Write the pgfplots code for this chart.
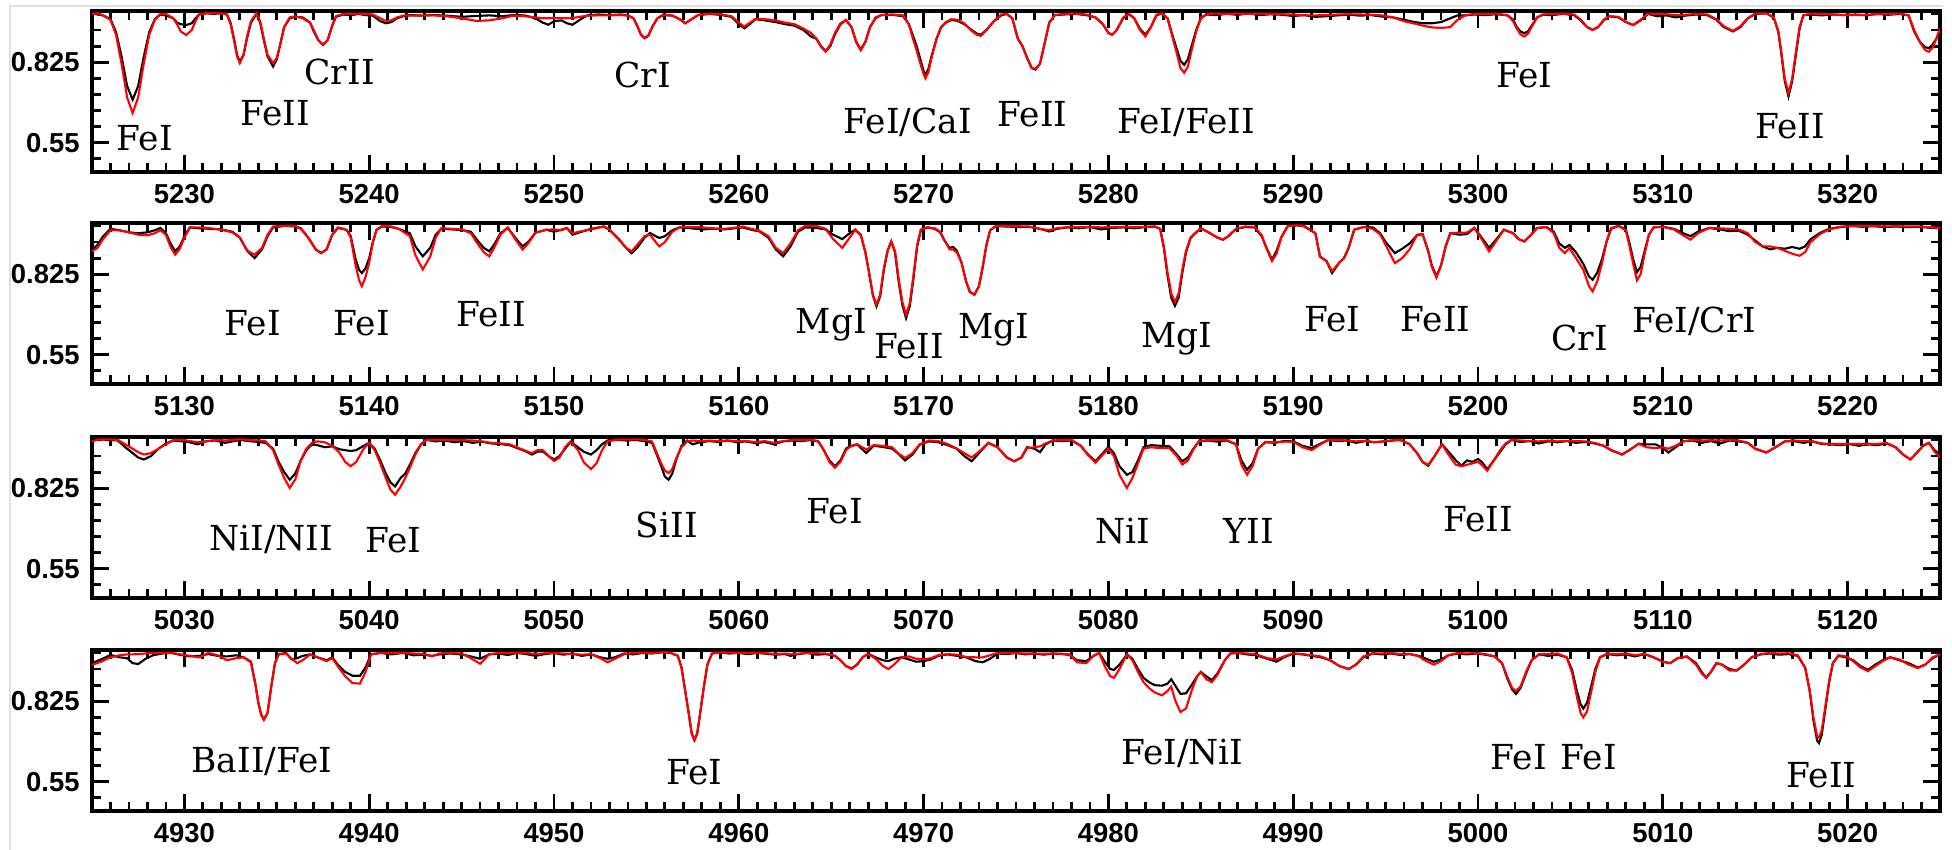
\documentclass[border=0pt]{standalone}
\usepackage{fontspec}
\usepackage{pgfplots}
\usepackage{pgfplotstable}
\pgfplotsset{compat=1.18}
\newfontfamily\tickfont{Liberation Sans}
\newfontfamily\labfont{DejaVu Serif}

% columns: wavelength, observed flux, model flux
\pgfplotstableread{
x o m
5225.0 0.992 0.990
5225.3 0.988 0.992
5225.6 0.985 0.985
5226.0 0.972 0.970
5226.3 0.928 0.919
5226.6 0.844 0.820
5226.9 0.744 0.705
5227.2 0.697 0.651
5227.5 0.744 0.705
5227.8 0.844 0.820
5228.1 0.928 0.919
5228.4 0.972 0.970
5228.7 0.988 0.990
5229.0 0.985 0.990
5229.4 0.975 0.975
5229.6 0.960 0.955
5229.8 0.955 0.930
5230.1 0.952 0.918
5230.4 0.958 0.935
5230.6 0.975 0.965
5230.8 0.988 0.988
5231.2 0.992 0.993
5231.6 0.990 0.992
5232.0 0.993 0.991
5232.3 0.988 0.988
5232.5 0.960 0.955
5232.7 0.900 0.895
5232.85 0.850 0.845
5233.0 0.827 0.822
5233.2 0.850 0.850
5233.4 0.910 0.915
5233.6 0.960 0.965
5233.9 0.990 0.992
5234.1 0.960 0.965
5234.3 0.900 0.905
5234.5 0.845 0.850
5234.8 0.810 0.822
5235.0 0.835 0.840
5235.2 0.890 0.890
5235.4 0.945 0.945
5235.7 0.975 0.978
5236.0 0.980 0.982
5236.4 0.978 0.975
5236.8 0.960 0.960
5237.0 0.930 0.935
5237.25 0.900 0.900
5237.5 0.884 0.885
5237.75 0.900 0.900
5238.0 0.950 0.950
5238.2 0.980 0.982
5238.6 0.988 0.990
5239.0 0.985 0.990
5239.4 0.990 0.991
5239.8 0.986 0.990
5240.2 0.984 0.988
5240.6 0.965 0.975
5240.9 0.958 0.966
5241.2 0.962 0.968
5241.5 0.975 0.978
5241.9 0.983 0.985
5242.3 0.986 0.984
5242.8 0.984 0.985
5243.5 0.986 0.985
5244.2 0.984 0.982
5245.0 0.980 0.975
5245.8 0.983 0.966
5246.5 0.985 0.968
5247.2 0.982 0.975
5247.8 0.986 0.984
5248.4 0.985 0.982
5249.0 0.975 0.978
5249.4 0.960 0.975
5249.7 0.953 0.975
5250.0 0.965 0.976
5250.4 0.968 0.975
5250.7 0.958 0.975
5251.0 0.953 0.976
5251.4 0.970 0.980
5251.8 0.985 0.984
5252.4 0.988 0.985
5253.0 0.986 0.985
5253.6 0.988 0.986
5254.0 0.985 0.984
5254.3 0.975 0.975
5254.5 0.950 0.950
5254.7 0.920 0.920
5254.9 0.907 0.907
5255.1 0.915 0.915
5255.35 0.950 0.950
5255.6 0.975 0.975
5255.9 0.986 0.987
5256.4 0.984 0.985
5256.8 0.972 0.972
5257.1 0.958 0.958
5257.4 0.970 0.970
5257.8 0.986 0.986
5258.4 0.990 0.991
5259.0 0.987 0.989
5259.6 0.980 0.982
5260.0 0.955 0.960
5260.3 0.941 0.947
5260.6 0.955 0.960
5260.9 0.972 0.973
5261.4 0.968 0.972
5262.0 0.962 0.968
5262.5 0.955 0.960
5263.0 0.950 0.955
5263.5 0.935 0.940
5263.9 0.913 0.925
5264.2 0.905 0.905
5264.45 0.880 0.878
5264.7 0.862 0.862
5264.95 0.880 0.885
5265.2 0.920 0.925
5265.5 0.955 0.958
5265.8 0.969 0.969
5266.1 0.945 0.945
5266.35 0.895 0.893
5266.6 0.868 0.866
5266.85 0.895 0.893
5267.1 0.945 0.945
5267.4 0.975 0.978
5267.7 0.986 0.986
5268.3 0.987 0.988
5268.9 0.982 0.985
5269.2 0.955 0.955
5269.4 0.920 0.910
5269.6 0.885 0.870
5269.8 0.840 0.825
5270.0 0.795 0.785
5270.1 0.783 0.770
5270.25 0.800 0.790
5270.45 0.850 0.845
5270.7 0.905 0.905
5270.95 0.945 0.945
5271.2 0.960 0.962
5271.5 0.969 0.972
5271.8 0.967 0.970
5272.2 0.955 0.958
5272.6 0.935 0.932
5272.9 0.922 0.918
5273.1 0.919 0.915
5273.4 0.935 0.935
5273.8 0.965 0.965
5274.2 0.985 0.988
5274.5 0.990 0.990
5274.8 0.975 0.975
5275.1 0.905 0.905
5275.35 0.880 0.880
5275.6 0.840 0.840
5275.85 0.805 0.805
5276.05 0.800 0.802
5276.3 0.820 0.820
5276.55 0.890 0.890
5276.8 0.960 0.960
5277.1 0.986 0.986
5277.6 0.988 0.990
5278.2 0.990 0.991
5278.8 0.986 0.988
5279.3 0.978 0.978
5279.7 0.955 0.955
5280.0 0.925 0.925
5280.2 0.919 0.919
5280.45 0.935 0.935
5280.8 0.975 0.978
5281.1 0.990 0.990
5281.4 0.975 0.975
5281.7 0.940 0.935
5282.0 0.919 0.913
5282.3 0.945 0.945
5282.6 0.985 0.987
5282.9 0.992 0.992
5283.2 0.975 0.975
5283.45 0.920 0.915
5283.7 0.870 0.855
5283.9 0.830 0.805
5284.1 0.816 0.789
5284.3 0.835 0.810
5284.5 0.880 0.865
5284.75 0.935 0.930
5285.0 0.975 0.976
5285.3 0.988 0.990
5285.8 0.986 0.991
5286.4 0.990 0.990
5287.0 0.987 0.991
5287.6 0.991 0.990
5288.2 0.986 0.991
5288.8 0.989 0.990
5289.4 0.987 0.989
5290.0 0.983 0.988
5290.6 0.986 0.985
5291.2 0.980 0.985
5291.8 0.982 0.986
5292.4 0.985 0.988
5293.0 0.988 0.989
5293.6 0.984 0.988
5294.2 0.986 0.987
5294.8 0.981 0.985
5295.4 0.978 0.978
5296.0 0.970 0.965
5296.5 0.963 0.958
5297.0 0.958 0.950
5297.5 0.958 0.944
5298.0 0.962 0.942
5298.5 0.975 0.945
5298.9 0.985 0.970
5299.3 0.985 0.985
5299.8 0.988 0.990
5300.4 0.986 0.990
5301.0 0.989 0.991
5301.6 0.985 0.985
5301.9 0.970 0.965
5302.1 0.945 0.940
5302.3 0.930 0.920
5302.5 0.924 0.913
5302.7 0.930 0.922
5302.9 0.950 0.945
5303.2 0.978 0.978
5303.5 0.987 0.988
5304.0 0.986 0.990
5304.6 0.990 0.991
5305.2 0.986 0.988
5305.6 0.965 0.968
5305.9 0.945 0.945
5306.2 0.935 0.935
5306.5 0.945 0.945
5306.8 0.968 0.970
5307.1 0.982 0.982
5307.6 0.978 0.980
5308.0 0.962 0.962
5308.4 0.952 0.952
5308.8 0.968 0.970
5309.2 0.990 0.991
5309.7 0.982 0.990
5310.2 0.985 0.989
5310.7 0.978 0.986
5311.2 0.984 0.987
5311.8 0.988 0.990
5312.4 0.986 0.988
5312.9 0.970 0.972
5313.3 0.945 0.948
5313.8 0.930 0.932
5314.2 0.945 0.948
5314.6 0.975 0.975
5315.0 0.990 0.991
5315.6 0.992 0.992
5316.0 0.978 0.978
5316.25 0.930 0.930
5316.4 0.860 0.865
5316.6 0.760 0.768
5316.8 0.708 0.719
5317.0 0.760 0.768
5317.2 0.850 0.860
5317.4 0.940 0.945
5317.6 0.985 0.985
5318.0 0.988 0.991
5318.6 0.985 0.990
5319.2 0.988 0.988
5319.8 0.986 0.986
5320.4 0.988 0.986
5321.0 0.985 0.987
5321.6 0.990 0.989
5322.2 0.987 0.990
5322.8 0.990 0.991
5323.3 0.985 0.985
5323.6 0.930 0.935
5323.9 0.895 0.895
5324.2 0.876 0.866
5324.4 0.873 0.861
5324.6 0.885 0.875
5324.8 0.905 0.905
5325.0 0.935 0.940
}\pA

\pgfplotstableread{
x o m
5125.0 0.909 0.903
5125.3 0.925 0.915
5125.6 0.955 0.945
5126.0 0.980 0.975
5126.5 0.975 0.975
5127.0 0.968 0.968
5127.5 0.965 0.960
5128.0 0.968 0.958
5128.4 0.975 0.965
5128.7 0.983 0.975
5129.0 0.965 0.960
5129.25 0.930 0.918
5129.5 0.903 0.892
5129.75 0.920 0.912
5130.0 0.955 0.950
5130.3 0.985 0.985
5130.8 0.982 0.985
5131.4 0.980 0.982
5132.0 0.978 0.977
5132.6 0.970 0.968
5133.0 0.950 0.950
5133.4 0.905 0.905
5133.8 0.880 0.892
5134.2 0.910 0.915
5134.5 0.955 0.960
5134.8 0.985 0.988
5135.4 0.990 0.990
5136.0 0.988 0.990
5136.3 0.982 0.980
5136.7 0.950 0.950
5137.1 0.910 0.910
5137.4 0.897 0.897
5137.7 0.910 0.910
5138.0 0.960 0.960
5138.3 0.982 0.985
5138.6 0.980 0.980
5138.8 0.975 0.975
5139.0 0.955 0.950
5139.25 0.880 0.860
5139.45 0.840 0.805
5139.6 0.829 0.784
5139.8 0.845 0.815
5140.0 0.880 0.865
5140.2 0.935 0.935
5140.4 0.977 0.977
5140.7 0.988 0.990
5141.2 0.986 0.988
5141.6 0.980 0.980
5142.2 0.965 0.955
5142.5 0.920 0.890
5142.9 0.886 0.841
5143.3 0.915 0.885
5143.6 0.960 0.950
5143.9 0.980 0.982
5144.5 0.978 0.980
5145.0 0.976 0.978
5145.5 0.970 0.965
5145.8 0.945 0.935
5146.2 0.915 0.900
5146.5 0.903 0.886
5146.8 0.930 0.920
5147.1 0.965 0.960
5147.5 0.983 0.985
5147.9 0.950 0.945
5148.3 0.920 0.909
5148.6 0.935 0.930
5149.0 0.967 0.967
5149.6 0.977 0.977
5150.0 0.970 0.978
5150.4 0.977 0.975
5150.7 0.983 0.983
5151.0 0.960 0.965
5151.5 0.970 0.972
5152.0 0.980 0.978
5152.7 0.988 0.988
5153.0 0.977 0.978
5153.5 0.945 0.945
5153.9 0.915 0.915
5154.2 0.897 0.903
5154.5 0.915 0.925
5154.9 0.950 0.955
5155.2 0.966 0.960
5155.5 0.955 0.935
5155.7 0.949 0.920
5156.0 0.955 0.935
5156.4 0.975 0.970
5156.8 0.985 0.985
5157.4 0.982 0.987
5158.0 0.978 0.985
5158.6 0.980 0.982
5159.2 0.978 0.980
5159.8 0.982 0.984
5160.2 0.985 0.988
5160.8 0.975 0.978
5161.1 0.972 0.974
5161.6 0.950 0.955
5162.0 0.910 0.915
5162.4 0.886 0.897
5162.8 0.920 0.930
5163.2 0.970 0.975
5163.6 0.985 0.990
5164.2 0.983 0.990
5164.7 0.978 0.980
5165.1 0.960 0.945
5165.6 0.945 0.915
5166.0 0.965 0.950
5166.3 0.977 0.977
5166.6 0.960 0.958
5166.85 0.900 0.900
5167.05 0.830 0.830
5167.25 0.755 0.755
5167.45 0.715 0.721
5167.65 0.750 0.755
5167.85 0.840 0.845
5168.05 0.905 0.905
5168.25 0.937 0.937
5168.45 0.900 0.905
5168.65 0.800 0.810
5168.85 0.720 0.730
5169.05 0.675 0.687
5169.25 0.715 0.725
5169.45 0.810 0.820
5169.65 0.920 0.925
5169.85 0.975 0.978
5170.2 0.985 0.985
5170.6 0.980 0.982
5170.9 0.968 0.970
5171.1 0.943 0.945
5171.4 0.915 0.910
5171.6 0.918 0.909
5171.8 0.905 0.900
5172.05 0.865 0.865
5172.3 0.800 0.800
5172.5 0.765 0.765
5172.75 0.755 0.755
5173.0 0.785 0.785
5173.2 0.850 0.850
5173.4 0.925 0.925
5173.6 0.975 0.975
5173.9 0.989 0.990
5174.5 0.988 0.990
5175.1 0.986 0.989
5175.7 0.987 0.988
5176.3 0.980 0.980
5176.8 0.971 0.975
5177.2 0.980 0.982
5177.8 0.985 0.986
5178.4 0.982 0.986
5179.0 0.986 0.987
5179.6 0.978 0.985
5180.2 0.983 0.986
5180.8 0.985 0.987
5181.4 0.982 0.986
5182.0 0.986 0.987
5182.5 0.988 0.988
5182.8 0.980 0.980
5183.0 0.915 0.920
5183.2 0.820 0.830
5183.4 0.745 0.760
5183.6 0.717 0.730
5183.8 0.745 0.760
5184.0 0.830 0.840
5184.2 0.900 0.905
5184.45 0.950 0.950
5184.7 0.965 0.965
5185.0 0.982 0.982
5185.5 0.965 0.965
5185.9 0.950 0.950
5186.2 0.943 0.943
5186.5 0.955 0.955
5186.9 0.980 0.980
5187.4 0.986 0.988
5187.9 0.985 0.987
5188.3 0.955 0.958
5188.55 0.915 0.915
5188.85 0.875 0.870
5189.1 0.905 0.895
5189.35 0.950 0.950
5189.7 0.989 0.989
5190.2 0.992 0.992
5190.6 0.988 0.990
5191.2 0.965 0.965
5191.45 0.885 0.885
5191.8 0.870 0.870
5192.1 0.829 0.835
5192.5 0.865 0.865
5192.75 0.880 0.880
5193.0 0.915 0.915
5193.3 0.977 0.977
5193.8 0.986 0.986
5194.3 0.985 0.980
5194.7 0.965 0.962
5195.0 0.935 0.925
5195.5 0.897 0.863
5195.9 0.912 0.880
5196.3 0.930 0.910
5196.7 0.958 0.960
5197.0 0.962 0.962
5197.3 0.905 0.905
5197.5 0.855 0.850
5197.75 0.818 0.813
5198.0 0.855 0.855
5198.25 0.920 0.920
5198.5 0.965 0.965
5199.0 0.960 0.967
5199.4 0.962 0.967
5199.8 0.983 0.983
5200.2 0.950 0.945
5200.6 0.915 0.903
5201.0 0.945 0.940
5201.4 0.977 0.977
5201.9 0.965 0.965
5202.2 0.945 0.945
5202.5 0.937 0.937
5202.8 0.955 0.955
5203.2 0.983 0.983
5203.7 0.986 0.986
5204.1 0.970 0.965
5204.4 0.930 0.915
5204.7 0.915 0.897
5204.95 0.925 0.915
5205.3 0.900 0.880
5205.7 0.860 0.840
5206.0 0.818 0.785
5206.2 0.806 0.766
5206.45 0.830 0.800
5206.7 0.875 0.860
5206.95 0.935 0.935
5207.2 0.980 0.983
5207.6 0.990 0.990
5208.0 0.978 0.975
5208.2 0.930 0.920
5208.4 0.875 0.860
5208.6 0.832 0.804
5208.8 0.850 0.825
5209.0 0.900 0.890
5209.25 0.960 0.960
5209.5 0.985 0.985
5210.0 0.987 0.987
5210.6 0.980 0.978
5211.1 0.965 0.958
5211.5 0.955 0.943
5211.9 0.970 0.965
5212.5 0.983 0.983
5213.1 0.978 0.982
5213.6 0.972 0.980
5214.1 0.974 0.978
5214.6 0.960 0.965
5215.0 0.940 0.935
5215.4 0.920 0.920
5215.8 0.910 0.920
5216.2 0.915 0.915
5216.6 0.912 0.905
5217.0 0.918 0.895
5217.4 0.912 0.888
5217.7 0.920 0.900
5218.0 0.945 0.935
5218.5 0.966 0.962
5219.0 0.980 0.978
5219.6 0.986 0.987
5220.2 0.990 0.989
5220.8 0.987 0.990
5221.4 0.989 0.990
5222.0 0.986 0.988
5222.6 0.988 0.989
5223.2 0.986 0.988
5223.8 0.987 0.988
5224.4 0.984 0.986
5225.0 0.982 0.983
}\pB

\pgfplotstableread{
x o m
5025.0 0.990 0.985
5025.4 0.992 0.992
5025.9 0.990 0.992
5026.4 0.988 0.990
5026.8 0.965 0.975
5027.2 0.945 0.960
5027.5 0.930 0.948
5027.8 0.923 0.940
5028.2 0.935 0.945
5028.6 0.960 0.960
5029.0 0.978 0.975
5029.4 0.988 0.990
5029.9 0.985 0.990
5030.3 0.982 0.986
5030.7 0.975 0.982
5031.2 0.986 0.985
5031.7 0.988 0.990
5032.2 0.980 0.988
5032.6 0.985 0.990
5033.0 0.990 0.992
5033.5 0.986 0.990
5034.0 0.983 0.988
5034.4 0.980 0.985
5034.8 0.960 0.955
5035.1 0.915 0.905
5035.4 0.880 0.860
5035.7 0.854 0.826
5036.0 0.875 0.855
5036.3 0.920 0.920
5036.6 0.955 0.960
5036.9 0.975 0.980
5037.2 0.972 0.985
5037.6 0.965 0.982
5038.0 0.968 0.970
5038.4 0.958 0.945
5038.7 0.955 0.915
5039.0 0.952 0.900
5039.3 0.955 0.915
5039.7 0.970 0.960
5040.0 0.980 0.980
5040.3 0.960 0.955
5040.6 0.920 0.910
5040.9 0.875 0.860
5041.15 0.845 0.820
5041.4 0.831 0.803
5041.7 0.860 0.830
5041.95 0.875 0.860
5042.2 0.905 0.895
5042.5 0.945 0.940
5042.8 0.975 0.975
5043.1 0.990 0.990
5043.6 0.985 0.991
5044.1 0.988 0.990
5044.6 0.982 0.990
5045.1 0.986 0.989
5045.6 0.980 0.988
5046.1 0.984 0.985
5046.6 0.978 0.980
5047.1 0.976 0.978
5047.6 0.972 0.975
5048.1 0.960 0.962
5048.5 0.950 0.952
5048.8 0.940 0.945
5049.1 0.950 0.955
5049.4 0.950 0.955
5049.7 0.935 0.935
5050.0 0.923 0.918
5050.3 0.935 0.930
5050.6 0.960 0.965
5050.9 0.983 0.985
5051.3 0.965 0.955
5051.6 0.950 0.915
5052.0 0.940 0.890
5052.3 0.955 0.910
5052.6 0.975 0.955
5052.9 0.988 0.985
5053.4 0.990 0.991
5053.9 0.988 0.991
5054.4 0.990 0.992
5054.9 0.986 0.990
5055.3 0.980 0.985
5055.5 0.950 0.955
5055.8 0.900 0.910
5056.0 0.865 0.885
5056.2 0.854 0.877
5056.4 0.875 0.890
5056.6 0.920 0.925
5056.9 0.970 0.965
5057.2 0.988 0.985
5057.5 0.975 0.988
5057.9 0.982 0.986
5058.4 0.986 0.988
5058.9 0.983 0.986
5059.4 0.988 0.988
5059.9 0.982 0.986
5060.4 0.985 0.987
5060.9 0.979 0.982
5061.4 0.983 0.986
5061.9 0.975 0.980
5062.4 0.985 0.986
5062.9 0.988 0.990
5063.4 0.986 0.990
5063.9 0.990 0.991
5064.3 0.985 0.985
5064.6 0.955 0.955
5064.9 0.920 0.915
5065.2 0.900 0.895
5065.5 0.920 0.915
5065.8 0.960 0.955
5066.0 0.968 0.966
5066.4 0.975 0.975
5066.9 0.945 0.957
5067.3 0.970 0.972
5067.8 0.966 0.970
5068.3 0.960 0.965
5068.6 0.945 0.945
5069.0 0.920 0.928
5069.4 0.940 0.945
5069.8 0.975 0.975
5070.3 0.985 0.988
5070.8 0.982 0.986
5071.3 0.972 0.976
5071.8 0.960 0.960
5072.2 0.935 0.945
5072.6 0.917 0.930
5073.0 0.945 0.950
5073.5 0.980 0.980
5074.0 0.965 0.965
5074.5 0.930 0.930
5074.9 0.917 0.917
5075.3 0.930 0.930
5075.6 0.965 0.962
5076.0 0.960 0.965
5076.3 0.948 0.968
5076.6 0.975 0.978
5077.0 0.988 0.988
5077.5 0.986 0.990
5078.0 0.988 0.990
5078.5 0.970 0.970
5078.9 0.940 0.938
5079.3 0.917 0.912
5079.7 0.945 0.940
5080.0 0.966 0.960
5080.3 0.945 0.935
5080.6 0.900 0.870
5081.0 0.871 0.826
5081.3 0.880 0.860
5081.6 0.920 0.910
5081.9 0.965 0.960
5082.3 0.972 0.965
5082.8 0.970 0.962
5083.3 0.968 0.962
5083.7 0.940 0.935
5084.0 0.917 0.906
5084.3 0.930 0.920
5084.6 0.960 0.958
5084.9 0.985 0.985
5085.4 0.988 0.990
5085.9 0.984 0.989
5086.4 0.988 0.990
5086.9 0.975 0.975
5087.2 0.920 0.905
5087.5 0.888 0.871
5087.8 0.910 0.900
5088.1 0.960 0.960
5088.5 0.983 0.982
5089.0 0.980 0.982
5089.5 0.986 0.984
5090.0 0.985 0.984
5090.5 0.970 0.965
5091.0 0.962 0.955
5091.4 0.975 0.972
5091.9 0.990 0.990
5092.4 0.986 0.990
5092.9 0.988 0.988
5093.4 0.980 0.985
5093.9 0.986 0.987
5094.4 0.982 0.982
5094.9 0.985 0.985
5095.4 0.988 0.989
5095.8 0.990 0.990
5096.3 0.975 0.975
5096.7 0.945 0.945
5097.0 0.915 0.915
5097.3 0.902 0.905
5097.6 0.930 0.930
5098.05 0.975 0.975
5098.4 0.950 0.940
5098.8 0.920 0.905
5099.1 0.902 0.900
5099.4 0.920 0.905
5099.7 0.915 0.910
5100.0 0.925 0.915
5100.2 0.915 0.905
5100.5 0.890 0.885
5100.8 0.915 0.915
5101.2 0.950 0.955
5101.5 0.975 0.978
5101.8 0.990 0.990
5102.3 0.983 0.988
5102.8 0.986 0.986
5103.3 0.978 0.985
5103.8 0.985 0.988
5104.3 0.982 0.985
5104.8 0.986 0.987
5105.3 0.980 0.986
5105.8 0.983 0.985
5106.3 0.978 0.980
5106.8 0.970 0.970
5107.2 0.955 0.955
5107.8 0.940 0.940
5108.3 0.960 0.960
5108.7 0.977 0.977
5109.1 0.975 0.965
5109.6 0.975 0.962
5110.0 0.963 0.965
5110.3 0.947 0.960
5110.7 0.965 0.970
5111.1 0.985 0.985
5111.6 0.988 0.990
5112.1 0.980 0.988
5112.6 0.986 0.989
5113.1 0.978 0.988
5113.6 0.988 0.990
5114.1 0.985 0.988
5114.6 0.980 0.980
5115.0 0.960 0.960
5115.6 0.947 0.947
5116.1 0.965 0.965
5116.6 0.985 0.985
5117.1 0.986 0.988
5117.6 0.980 0.986
5118.1 0.985 0.985
5118.6 0.976 0.978
5119.1 0.975 0.976
5119.6 0.972 0.976
5120.1 0.976 0.976
5120.6 0.970 0.976
5121.1 0.975 0.977
5121.6 0.972 0.976
5122.1 0.978 0.980
5122.6 0.965 0.965
5123.0 0.940 0.940
5123.4 0.923 0.923
5123.8 0.950 0.950
5124.1 0.970 0.972
5124.4 0.980 0.980
5124.7 0.955 0.950
5125.0 0.940 0.930
}\pC

\pgfplotstableread{
x o m
4925.0 0.955 0.949
4925.5 0.968 0.960
4926.0 0.983 0.975
4926.5 0.975 0.982
4926.9 0.972 0.985
4927.2 0.955 0.985
4927.5 0.952 0.986
4927.9 0.970 0.988
4928.3 0.982 0.990
4928.8 0.988 0.990
4929.3 0.990 0.990
4929.8 0.983 0.985
4930.3 0.978 0.980
4930.8 0.980 0.975
4931.3 0.986 0.990
4931.8 0.980 0.982
4932.3 0.978 0.965
4932.8 0.982 0.972
4933.2 0.975 0.975
4933.6 0.960 0.958
4933.85 0.880 0.880
4934.0 0.820 0.820
4934.15 0.780 0.780
4934.3 0.762 0.762
4934.5 0.785 0.785
4934.7 0.875 0.875
4934.9 0.955 0.955
4935.1 0.985 0.985
4935.5 0.990 0.988
4935.8 0.968 0.970
4936.1 0.972 0.955
4936.4 0.980 0.965
4936.8 0.985 0.985
4937.2 0.975 0.975
4937.7 0.965 0.962
4938.0 0.975 0.972
4938.3 0.950 0.945
4938.7 0.925 0.910
4939.1 0.912 0.887
4939.5 0.912 0.885
4939.8 0.940 0.925
4940.1 0.985 0.985
4940.6 0.990 0.990
4941.2 0.985 0.990
4941.8 0.990 0.991
4942.4 0.982 0.988
4943.0 0.984 0.986
4943.4 0.980 0.978
4943.8 0.985 0.988
4944.4 0.988 0.990
4945.0 0.985 0.988
4945.5 0.978 0.972
4946.0 0.970 0.953
4946.5 0.985 0.985
4947.0 0.988 0.990
4947.5 0.983 0.990
4948.0 0.990 0.989
4948.5 0.986 0.990
4949.0 0.980 0.986
4949.5 0.986 0.989
4950.0 0.990 0.990
4950.5 0.984 0.988
4951.0 0.988 0.986
4951.5 0.980 0.984
4952.0 0.985 0.986
4952.5 0.975 0.972
4952.9 0.970 0.958
4953.3 0.975 0.970
4953.8 0.988 0.986
4954.3 0.985 0.990
4954.8 0.990 0.991
4955.3 0.988 0.990
4955.8 0.992 0.992
4956.3 0.990 0.991
4956.7 0.980 0.980
4956.9 0.940 0.940
4957.1 0.860 0.860
4957.3 0.780 0.780
4957.45 0.715 0.715
4957.6 0.692 0.692
4957.75 0.715 0.715
4957.9 0.780 0.780
4958.1 0.870 0.870
4958.3 0.950 0.950
4958.55 0.988 0.988
4959.0 0.992 0.992
4959.5 0.988 0.991
4960.0 0.990 0.990
4960.5 0.986 0.990
4961.0 0.990 0.991
4961.5 0.987 0.989
4962.0 0.984 0.986
4962.5 0.986 0.988
4962.8 0.980 0.985
4963.2 0.986 0.987
4963.7 0.990 0.990
4964.2 0.984 0.989
4964.7 0.986 0.988
4965.2 0.980 0.980
4965.5 0.965 0.965
4965.8 0.945 0.945
4966.1 0.937 0.935
4966.4 0.950 0.950
4966.7 0.975 0.975
4967.0 0.987 0.987
4967.4 0.975 0.970
4967.8 0.965 0.945
4968.1 0.962 0.935
4968.4 0.970 0.950
4968.8 0.975 0.975
4969.2 0.968 0.978
4969.6 0.960 0.970
4970.0 0.962 0.968
4970.4 0.968 0.972
4970.8 0.980 0.982
4971.3 0.985 0.986
4971.8 0.980 0.984
4972.3 0.975 0.976
4972.8 0.962 0.975
4973.2 0.958 0.975
4973.6 0.970 0.982
4974.0 0.988 0.990
4974.5 0.986 0.990
4975.0 0.990 0.989
4975.5 0.985 0.988
4976.0 0.988 0.988
4976.5 0.984 0.987
4977.0 0.988 0.988
4977.5 0.986 0.987
4977.9 0.983 0.985
4978.3 0.965 0.958
4978.8 0.962 0.955
4979.2 0.980 0.980
4979.5 0.990 0.990
4979.8 0.960 0.945
4980.1 0.935 0.910
4980.3 0.932 0.905
4980.6 0.950 0.935
4981.0 0.985 0.985
4981.3 0.970 0.965
4981.6 0.935 0.925
4981.9 0.905 0.890
4982.2 0.890 0.870
4982.5 0.880 0.855
4982.9 0.878 0.845
4983.2 0.885 0.860
4983.4 0.900 0.875
4983.6 0.880 0.830
4983.9 0.850 0.788
4984.2 0.852 0.800
4984.5 0.880 0.860
4984.8 0.910 0.910
4985.0 0.925 0.925
4985.3 0.910 0.900
4985.6 0.897 0.890
4985.9 0.920 0.915
4986.3 0.965 0.965
4986.6 0.988 0.988
4987.0 0.990 0.990
4987.5 0.985 0.988
4988.0 0.982 0.985
4988.6 0.970 0.972
4989.1 0.960 0.968
4989.5 0.975 0.978
4990.0 0.988 0.988
4990.5 0.985 0.986
4991.0 0.980 0.982
4991.5 0.975 0.978
4992.0 0.965 0.965
4992.5 0.945 0.945
4993.0 0.935 0.935
4993.4 0.950 0.950
4993.8 0.975 0.978
4994.3 0.988 0.989
4994.8 0.985 0.988
4995.3 0.988 0.990
4995.8 0.983 0.986
4996.3 0.986 0.987
4996.8 0.980 0.978
4997.2 0.970 0.962
4997.6 0.960 0.950
4998.0 0.968 0.962
4998.4 0.982 0.982
4998.9 0.988 0.990
4999.4 0.985 0.988
4999.9 0.988 0.990
5000.4 0.984 0.986
5000.9 0.978 0.978
5001.3 0.955 0.955
5001.6 0.900 0.905
5001.85 0.865 0.870
5002.05 0.850 0.860
5002.3 0.870 0.875
5002.6 0.920 0.925
5002.9 0.965 0.965
5003.3 0.985 0.985
5003.8 0.980 0.986
5004.3 0.984 0.988
5004.8 0.975 0.975
5005.1 0.930 0.920
5005.35 0.860 0.840
5005.55 0.815 0.785
5005.7 0.800 0.770
5005.9 0.820 0.790
5006.1 0.870 0.850
5006.35 0.935 0.925
5006.6 0.975 0.975
5007.0 0.986 0.988
5007.5 0.982 0.986
5008.0 0.985 0.988
5008.5 0.978 0.982
5009.0 0.986 0.987
5009.5 0.975 0.975
5010.0 0.960 0.960
5010.4 0.955 0.955
5010.8 0.972 0.972
5011.3 0.978 0.978
5011.8 0.955 0.950
5012.1 0.925 0.920
5012.35 0.905 0.905
5012.6 0.925 0.925
5012.9 0.955 0.955
5013.2 0.950 0.950
5013.6 0.935 0.930
5014.0 0.930 0.930
5014.4 0.950 0.950
5014.8 0.975 0.975
5015.3 0.985 0.986
5015.8 0.988 0.990
5016.3 0.984 0.988
5016.8 0.986 0.989
5017.3 0.980 0.982
5017.7 0.940 0.940
5017.95 0.860 0.860
5018.15 0.760 0.770
5018.35 0.690 0.705
5018.45 0.682 0.700
5018.6 0.710 0.725
5018.8 0.800 0.810
5019.0 0.890 0.895
5019.2 0.955 0.955
5019.5 0.980 0.982
5019.9 0.975 0.978
5020.3 0.965 0.962
5020.7 0.945 0.940
5021.1 0.932 0.928
5021.5 0.950 0.945
5021.9 0.965 0.962
5022.3 0.975 0.975
5022.8 0.965 0.968
5023.3 0.955 0.950
5023.8 0.940 0.938
5024.2 0.950 0.950
5024.6 0.972 0.975
5025.0 0.985 0.985
}\pD

\pgfplotsset{
  spec/.style={
    scale only axis, width=184.8mm, height=16.1mm,
    anchor=north west,
    ymin=0.45, ymax=1.0,
    ytick={0.55,0.825}, yticklabels={0.55,0.825},
    minor ytick={0.495,0.605,0.66,0.715,0.77,0.88,0.935,0.99},
    xtick distance=10, minor x tick num=9,
    tick align=inside,
    major tick length=1.7mm, minor tick length=0.9mm,
    every tick/.append style={black, line width=0.8pt},
    axis line style={line width=1.1pt},
    tick label style={font=\tickfont\bfseries\fontsize{7.8}{9}\selectfont},
    x tick label style={/pgf/number format/1000 sep={}, /pgf/number format/assume math mode=true},
  },
  obs/.style={black, line width=0.6pt},
  mod/.style={red, line width=0.6pt},
}
\tikzset{lab/.style={font=\labfont\fontsize{9.8}{11}\selectfont, inner sep=0pt}}

\begin{document}
\begin{tikzpicture}
\path[use as bounding box] (-9.2mm,1.1mm) rectangle (186.0mm,-83.9mm);
\draw[black!12, line width=0.4pt] (-8.2mm,-83.9mm) -- (-8.2mm,0.5mm) -- (185.1mm,0.5mm);

\begin{axis}[spec, at={(0mm,0mm)}, xmin=5225, xmax=5325]
\addplot[obs] table[x=x,y=o]{\pA};
\addplot[mod] table[x=x,y=m]{\pA};
\node[lab] at (axis cs:5227.85,0.566) {FeI};
\node[lab] at (axis cs:5234.9,0.651) {FeII};
\node[lab] at (axis cs:5238.4,0.793) {CrII};
\node[lab] at (axis cs:5254.8,0.783) {CrI};
\node[lab] at (axis cs:5269.15,0.619) {FeI/CaI};
\node[lab] at (axis cs:5275.9,0.647) {FeII};
\node[lab] at (axis cs:5284.2,0.619) {FeI/FeII};
\node[lab] at (axis cs:5302.5,0.782) {FeI};
\node[lab] at (axis cs:5316.9,0.606) {FeII};
\end{axis}

\begin{axis}[spec, at={(0mm,-21.2mm)}, xmin=5125, xmax=5225]
\addplot[obs] table[x=x,y=o]{\pB};
\addplot[mod] table[x=x,y=m]{\pB};
\node[lab] at (axis cs:5133.7,0.658) {FeI};
\node[lab] at (axis cs:5139.6,0.658) {FeI};
\node[lab] at (axis cs:5146.6,0.689) {FeII};
\node[lab] at (axis cs:5165.0,0.653) {MgI};
\node[lab] at (axis cs:5169.2,0.579) {FeII};
\node[lab] at (axis cs:5173.8,0.636) {MgI};
\node[lab] at (axis cs:5183.7,0.605) {MgI};
\node[lab] at (axis cs:5192.1,0.670) {FeI};
\node[lab] at (axis cs:5197.7,0.670) {FeII};
\node[lab] at (axis cs:5205.5,0.607) {CrI};
\node[lab] at (axis cs:5211.7,0.664) {FeI/CrI};
\end{axis}

\begin{axis}[spec, at={(0mm,-42.6mm)}, xmin=5025, xmax=5125]
\addplot[obs] table[x=x,y=o]{\pC};
\addplot[mod] table[x=x,y=m]{\pC};
\node[lab] at (axis cs:5034.7,0.649) {NiI/NII};
\node[lab] at (axis cs:5041.3,0.649) {FeI};
\node[lab] at (axis cs:5056.1,0.700) {SiII};
\node[lab] at (axis cs:5065.2,0.746) {FeI};
\node[lab] at (axis cs:5080.8,0.678) {NiI};
\node[lab] at (axis cs:5087.6,0.678) {YII};
\node[lab] at (axis cs:5100.0,0.718) {FeII};
\end{axis}

\begin{axis}[spec, at={(0mm,-63.9mm)}, xmin=4925, xmax=5025]
\addplot[obs] table[x=x,y=o]{\pD};
\addplot[mod] table[x=x,y=m]{\pD};
\node[lab] at (axis cs:4934.2,0.620) {BaII/FeI};
\node[lab] at (axis cs:4957.6,0.584) {FeI};
\node[lab] at (axis cs:4984.0,0.646) {FeI/NiI};
\node[lab] at (axis cs:5002.2,0.633) {FeI};
\node[lab] at (axis cs:5006.0,0.633) {FeI};
\node[lab] at (axis cs:5018.6,0.574) {FeII};
\end{axis}
\end{tikzpicture}
\end{document}
